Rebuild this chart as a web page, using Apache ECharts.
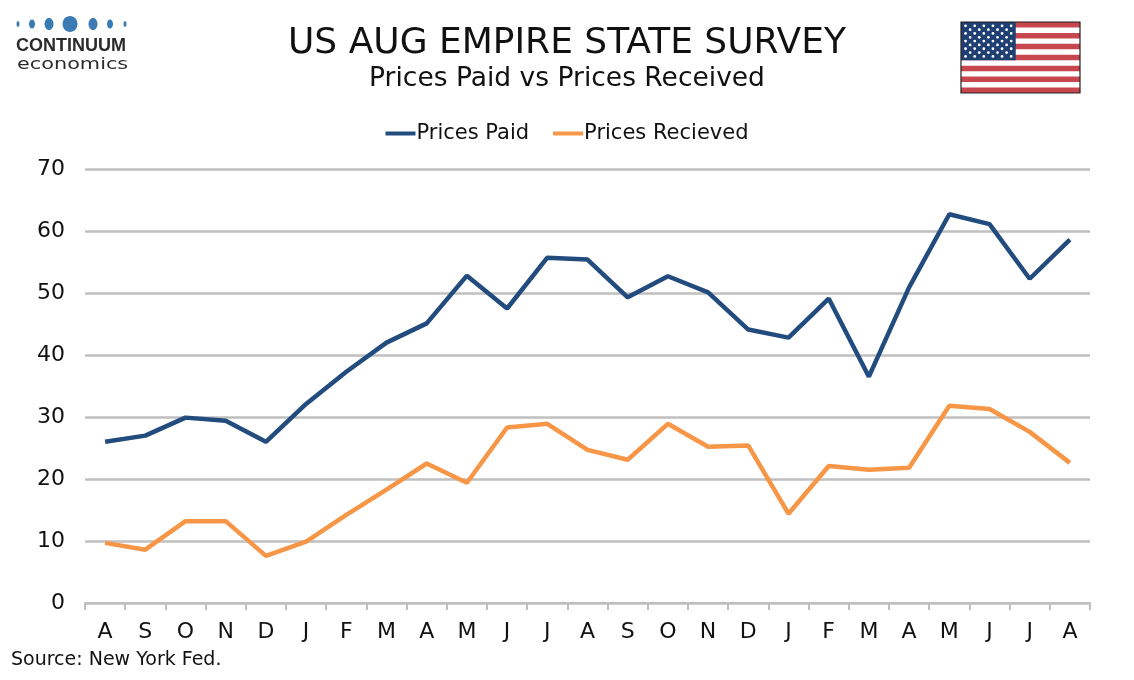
<!DOCTYPE html>
<html>
<head>
<meta charset="utf-8">
<script src="https://cdn.jsdelivr.net/npm/echarts@6/dist/echarts.min.js"></script>
<style>
  html, body { margin: 0; padding: 0; background: #fff; }
  #chart { width: 1134px; height: 680px; }
</style>
</head>
<body>
<div id="chart"></div>
<script>
// months Aug 2023 .. Aug 2025
var months = ['A','S','O','N','D','J','F','M','A','M','J','J','A','S','O','N','D','J','F','M','A','M','J','J','A'];
var pricesPaid = [26.0, 27.0, 29.9, 29.4, 26.0, 32.1, 37.3, 42.0, 45.1, 52.8, 47.5, 55.7, 55.4,
                  49.3, 52.7, 50.1, 44.1, 42.8, 49.1, 36.5, 50.9, 62.7, 61.1, 52.3, 58.6];
var pricesReceived = [9.7, 8.6, 13.2, 13.2, 7.6, 9.9, 14.2, 18.3, 22.5, 19.4, 28.3, 28.9, 24.7,
                      23.1, 28.9, 25.2, 25.4, 14.4, 22.1, 21.5, 21.8, 31.8, 31.3, 27.6, 22.6];
var yTicks = [0, 10, 20, 30, 40, 50, 60, 70];

var font = 'DejaVu Sans, Verdana, sans-serif';

// flag bits (decoration only)
function flag(x, y, w, h){
  var els = [];
  var sh = h / 13;
  els.push({type:'rect', shape:{x:x, y:y, width:w, height:h}, style:{fill:'#fff'}});
  for (var i = 0; i < 13; i += 2) {
    els.push({type:'rect', shape:{x:x, y:y + i*sh, width:w, height:sh}, style:{fill:'#c8464d'}});
  }
  var cw = w * 0.46, ch = sh * 7;
  els.push({type:'rect', shape:{x:x, y:y, width:cw, height:ch}, style:{fill:'#1f3f73'}});
  for (var r = 0; r < 9; r++) {
    var n = r % 2 ? 5 : 6;
    for (var c = 0; c < n; c++) {
      var cx = x + cw/12 * (2*c + 1 + (r % 2 ? 1 : 0));
      var cy = y + ch/10 * (r + 1);
      els.push({type:'circle', shape:{cx:cx, cy:cy, r:1.4}, style:{fill:'#fff'}});
    }
  }
  els.push({type:'rect', shape:{x:x, y:y, width:w, height:h}, style:{fill:'none', stroke:'#222', lineWidth:1.2}});
  return els;
}

function logo(){
  var els = [];
  var dots = [[18,1.5,3],[32,3,4.5],[49,4.5,6],[70,7.5,8],[93,4.5,6],[110,3,4.5],[125,1.5,3]];
  dots.forEach(function(d){
    els.push({type:'ellipse', shape:{cx:d[0], cy:24, rx:d[1], ry:d[2]}, style:{fill:'#3b7bb4'}});
  });
  els.push({type:'text', left:16, top:37, style:{text:'CONTINUUM', font:'bold 18px Liberation Sans, Arial, sans-serif', fill:'#2b2b2b'}});
  els.push({type:'text', x:17, y:57, scaleX:1.3, style:{text:'economics', font:'16px ' + font, fill:'#2b2b2b'}});
  return els;
}

var chart = echarts.init(document.getElementById('chart'));
chart.setOption({
  backgroundColor: '#fff',
  animation: false,
  title: [
    {text: 'US AUG EMPIRE STATE SURVEY', left: 'center', top: 21,
     textStyle: {fontFamily: font, fontSize: 36, fontWeight: 'normal', color: '#111'}},
    {text: 'Prices Paid vs Prices Received', left: 'center', top: 61,
     textStyle: {fontFamily: font, fontSize: 26.5, fontWeight: 'normal', color: '#111'}}
  ],
  legend: {
    top: 118, left: 'center', itemGap: 24, itemWidth: 30, itemHeight: 4,
    icon: 'rect',
    textStyle: {fontFamily: font, fontSize: 21, color: '#111', padding: [0,0,0,-4]},
    data: ['Prices Paid', 'Prices Recieved']
  },
  grid: {left: 85, right: 44, top: 169, bottom: 77, containLabel: false},
  xAxis: {
    type: 'category',
    data: months,
    boundaryGap: true,
    axisLine: {lineStyle: {color: '#bfbfbf', width: 2}},
    axisTick: {show: true, length: 7, lineStyle: {color: '#bfbfbf', width: 2}},
    axisLabel: {fontFamily: font, fontSize: 22, color: '#111', margin: 18}
  },
  yAxis: {
    type: 'value', min: yTicks[0], max: yTicks[yTicks.length-1], interval: 10,
    axisLine: {show: false},
    axisTick: {show: false},
    splitLine: {lineStyle: {color: '#bfbfbf', width: 2.5}},
    axisLabel: {fontFamily: font, fontSize: 22, color: '#111', margin: 20}
  },
  series: [
    {name: 'Prices Paid', type: 'line', data: pricesPaid, symbol: 'none',
     lineStyle: {color: '#234c7e', width: 4.5}, itemStyle: {color: '#234c7e'}},
    {name: 'Prices Recieved', type: 'line', data: pricesReceived, symbol: 'none',
     lineStyle: {color: '#f79646', width: 4.5}, itemStyle: {color: '#f79646'}}
  ],
  graphic: logo().concat(flag(961, 22, 119, 71)).concat([
    {type: 'text', left: 11, top: 651, style: {text: 'Source: New York Fed.', font: '19px ' + font, fill: '#111'}}
  ])
});
</script>
</body>
</html>
